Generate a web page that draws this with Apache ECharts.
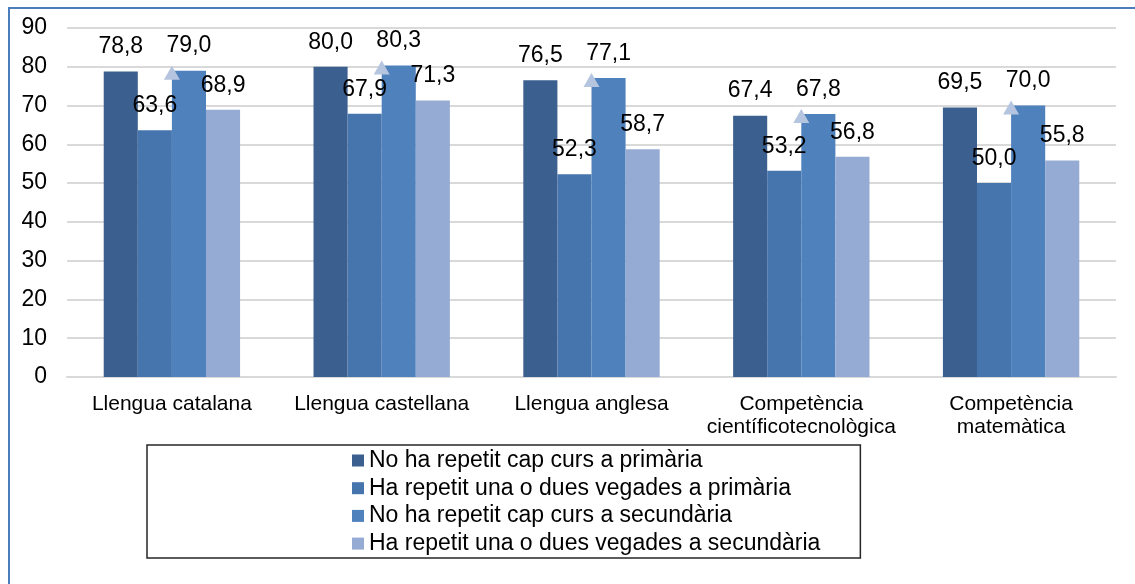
<!DOCTYPE html>
<html>
<head>
<meta charset="utf-8">
<script src="https://cdn.jsdelivr.net/npm/echarts@6/dist/echarts.min.js"></script>
<style>
  html, body { margin: 0; padding: 0; background: #fff; }
  #chart { width: 1135px; height: 584px; }
</style>
</head>
<body>
<div id="chart"></div>
<script>
const categories = [
  'Llengua catalana',
  'Llengua castellana',
  'Llengua anglesa',
  'Competència\ncientíficotecnològica',
  'Competència\nmatemàtica'
];
const seriesNames = [
  'No ha repetit cap curs a primària',
  'Ha repetit una o dues vegades a primària',
  'No ha repetit cap curs a secundària',
  'Ha repetit una o dues vegades a secundària'
];
const noRepPrimaria = [78.8, 80.0, 76.5, 67.4, 69.5];
const repPrimaria = [63.6, 67.9, 52.3, 53.2, 50.0];
const noRepSecundaria = [79.0, 80.3, 77.1, 67.8, 70.0];
const repSecundaria = [68.9, 71.3, 58.7, 56.8, 55.8];
const yTicks = [0, 10, 20, 30, 40, 50, 60, 70, 80, 90];

const colors = ['#3b5f8e', '#4674ac', '#4f81bd', '#95abd4'];
const font = "'Liberation Sans', Arial, sans-serif";

const chart = echarts.init(document.getElementById('chart'));

const fmt = (p) => p.value.toFixed(1).replace('.', ',');

const barSeries = [noRepPrimaria, repPrimaria, noRepSecundaria, repSecundaria].map((vals, i) => ({
  name: seriesNames[i],
  type: 'bar',
  data: vals,
  barGap: '0%',
  barCategoryGap: '35%',
  itemStyle: { color: colors[i] },
  label: {
    show: true,
    position: 'top',
    distance: 13,
    formatter: fmt,
    color: '#000',
    fontSize: 23,
    fontFamily: font
  }
}));

const option = {
  animation: false,
  textStyle: { fontFamily: font },
  graphic: [
    {
      type: 'rect',
      shape: { x: 9, y: 8, width: 1300, height: 800 },
      style: { fill: null, stroke: '#4a7ebb', lineWidth: 2 },
      z: -10
    }
  ],
  grid: { left: 67, right: 19, top: 28, bottom: 207 },
  legend: {
    data: seriesNames,
    orient: 'vertical',
    left: 147,
    top: 445,
    padding: [4, 40, 3, 205],
    itemWidth: 12,
    itemHeight: 12,
    itemGap: 4.7,
    icon: 'rect',
    borderColor: '#262626',
    borderWidth: 1.5,
    textStyle: { fontSize: 23, color: '#000', fontFamily: font }
  },
  xAxis: {
    type: 'category',
    data: categories,
    axisTick: { show: false },
    axisLine: { lineStyle: { color: '#d9d9d9', width: 2 } },
    axisLabel: {
      color: '#000',
      fontSize: 21,
      lineHeight: 23,
      margin: 16,
      interval: 0,
      fontFamily: font
    }
  },
  yAxis: {
    type: 'value',
    min: yTicks[0],
    max: yTicks[yTicks.length - 1],
    interval: 10,
    axisLine: { show: false },
    axisTick: { show: false },
    splitLine: { lineStyle: { color: '#d9d9d9', width: 2 } },
    axisLabel: { color: '#000', fontSize: 23, margin: 20, fontFamily: font }
  },
  series: [
    ...barSeries,
    {
      // small arrow markers on the secondary-school bars
      type: 'scatter',
      data: noRepSecundaria.map((v, i) => [categories[i], v]),
      symbol: 'triangle',
      symbolSize: [16, 14],
      symbolOffset: [0, 2],
      itemStyle: { color: '#b6c5df', opacity: 1 },
      z: 5,
      silent: true
    }
  ]
};

chart.setOption(option);
</script>
</body>
</html>
